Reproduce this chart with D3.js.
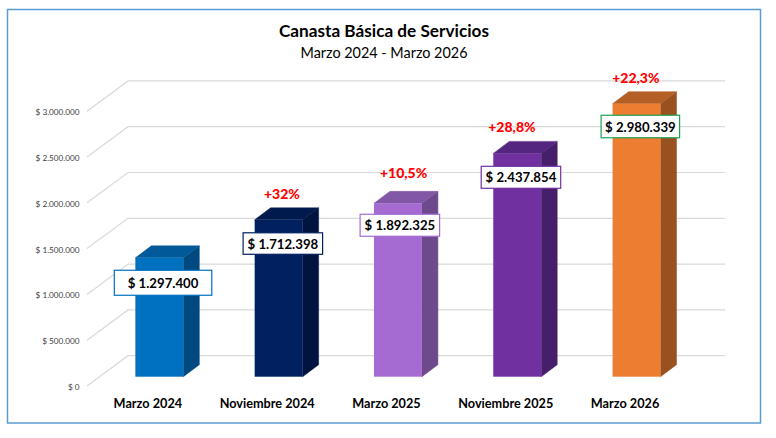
<!DOCTYPE html>
<html lang="es">
<head>
  <title>Canasta Básica de Servicios</title>
  <meta charset="UTF-8">
  <style>
    html, body { margin: 0; padding: 0; background: #fff; }
    svg { display: block; font-family: Lato, sans-serif; }
  </style>
  <script src="https://cdn.jsdelivr.net/npm/d3@7"></script>
</head>
<body>
  <script>
    // data
    var categories = ["Marzo 2024", "Noviembre 2024", "Marzo 2025", "Noviembre 2025", "Marzo 2026"];
    var values = [1297400, 1712398, 1892325, 2437854, 2980339];
    var changes = ["", "+32%", "+10,5%", "+28,8%", "+22,3%"];
    var ticks = [0, 500000, 1000000, 1500000, 2000000, 2500000, 3000000];

    // colours per bar: front, top, side, label border
    var front = ["#0070c0", "#002060", "#a56bd3", "#7030a0", "#ed7d31"];
    var top_ = ["#005a9a", "#001a4d", "#8257a6", "#552680", "#b35f26"];
    var side = ["#004a80", "#001440", "#6e4a8c", "#461f6a", "#9a5120"];
    var boxStroke = ["#0070c0", "#002060", "#a56bd3", "#7030a0", "#22a052"];

    // hand placed labels, as in the original (offset of box centre from bar top centre)
    var boxOffset = [[3.7, 24.9], [4.2, 23.7], [1.9, 21.9], [3.7, 23.9], [3.8, 22.8]];
    var boxWidth = [97.5, 79.5, 79.5, 79.5, 78.5];
    var boxHeight = [25, 21.5, 22, 22, 22.5];
    var pctOffset = [null, [3.3, -21], [5.7, -25.7], [-5.3, -21.7], [-0.7, -21]];

    var w = 776, h = 438;
    var svg = d3.select("body").append("svg").attr("width", w).attr("height", h);

    var loc = d3.formatLocale({ decimal: ",", thousands: ".", grouping: [3], currency: ["$ ", ""] });
    var money = loc.format("$,.0f");

    var x = d3.scaleBand().domain(categories).range([99.7, 696.2]).paddingInner(0.598).paddingOuter(0.299);
    var max = 3000000;
    var y = d3.scaleLinear().domain([0, max]).range([376.7, 101.9]);      // bar front plane
    var yFront = d3.scaleLinear().domain([0, max]).range([386, 111.2]);   // floor front edge
    var yBack = d3.scaleLinear().domain([0, max]).range([355.7, 80.9]);   // back wall
    var depth = { x: 16, y: 12 };

    // chart frame
    svg.append("rect").attr("x", 7.5).attr("y", 9.5).attr("width", 753).attr("height", 413.5)
      .attr("fill", "#fff").attr("stroke", "#5b9bd5").attr("stroke-width", 1.5);

    // title
    svg.append("text").attr("x", 384).attr("y", 37).attr("text-anchor", "middle")
      .attr("font-size", 17.2).attr("font-weight", 700).attr("fill", "#000").text("Canasta Básica de Servicios");
    svg.append("text").attr("x", 384).attr("y", 57.5).attr("text-anchor", "middle")
      .attr("font-size", 14.4).attr("fill", "#000").text("Marzo 2024 - Marzo 2026");

    // 3d gridlines
    var grid = svg.append("g").attr("fill", "none").attr("stroke", "#d9d9d9").attr("stroke-width", 1.2);
    grid.selectAll("path").data(ticks).enter().append("path")
      .attr("d", function(d) {
        return "M87," + yFront(d) + "L128," + yBack(d) + "H725";
      });

    // value axis
    var axis = d3.axisLeft(yFront).tickValues(ticks).tickSize(0).tickPadding(0).tickFormat(money);
    var axisG = svg.append("g").attr("transform", "translate(79.5,0.8)").call(axis);
    axisG.select(".domain").remove();
    axisG.selectAll("text").attr("font-family", "Lato, sans-serif").attr("font-size", 8.2).attr("fill", "#404040");

    // bars
    var bars = svg.append("g").selectAll("g").data(categories).enter().append("g");
    bars.append("path").attr("fill", function(d, i) { return side[i]; })
      .attr("stroke", function(d, i) { return side[i]; }).attr("stroke-width", 0.5)
      .attr("d", function(d, i) {
        var r = x(d) + x.bandwidth();
        return "M" + r + "," + y(values[i]) + "l" + depth.x + "," + (-depth.y) + "V" + (y(0) - depth.y) + "L" + r + "," + y(0) + "Z";
      });
    bars.append("path").attr("fill", function(d, i) { return top_[i]; })
      .attr("stroke", function(d, i) { return top_[i]; }).attr("stroke-width", 0.5)
      .attr("d", function(d, i) {
        var l = x(d), t = y(values[i]);
        return "M" + l + "," + t + "l" + depth.x + "," + (-depth.y) + "h" + x.bandwidth() + "l" + (-depth.x) + "," + depth.y + "Z";
      });
    bars.append("rect").attr("fill", function(d, i) { return front[i]; })
      .attr("x", function(d) { return x(d); })
      .attr("y", function(d, i) { return y(values[i]); })
      .attr("width", x.bandwidth())
      .attr("height", function(d, i) { return y(0) - y(values[i]); });

    // category labels
    svg.append("g").selectAll("text").data(categories).enter().append("text")
      .attr("x", function(d) { return x(d) + x.bandwidth() / 2 - 11.5; })
      .attr("y", 407.5).attr("text-anchor", "middle")
      .attr("font-size", 12.7).attr("font-weight", 700).attr("fill", "#000")
      .text(function(d) { return d; });

    // value boxes
    var labels = svg.append("g").selectAll("g").data(values).enter().append("g")
      .attr("transform", function(d, i) {
        var cx = x(categories[i]) + x.bandwidth() / 2 + boxOffset[i][0];
        return "translate(" + cx + "," + (y(d) + boxOffset[i][1]) + ")";
      });
    labels.append("rect")
      .attr("x", function(d, i) { return -boxWidth[i] / 2; })
      .attr("y", function(d, i) { return -boxHeight[i] / 2; })
      .attr("width", function(d, i) { return boxWidth[i]; })
      .attr("height", function(d, i) { return boxHeight[i]; })
      .attr("fill", "#fff").attr("stroke-width", 1.2)
      .attr("stroke", function(d, i) { return boxStroke[i]; });
    labels.append("text").attr("y", 5).attr("text-anchor", "middle")
      .attr("font-size", 13.2).attr("font-weight", 700).attr("fill", "#000")
      .text(function(d) { return money(d); });

    // growth labels
    svg.append("g").selectAll("text").data(categories).enter().append("text")
      .filter(function(d, i) { return changes[i] !== ""; })
      .attr("x", function(d) { var i = categories.indexOf(d); return x(d) + x.bandwidth() / 2 + pctOffset[i][0]; })
      .attr("y", function(d) { var i = categories.indexOf(d); return y(values[i]) + pctOffset[i][1]; })
      .attr("text-anchor", "middle").attr("font-size", 14).attr("font-weight", 900).attr("fill", "#ff0000")
      .text(function(d) { return changes[categories.indexOf(d)]; });
  </script>
</body>
</html>
